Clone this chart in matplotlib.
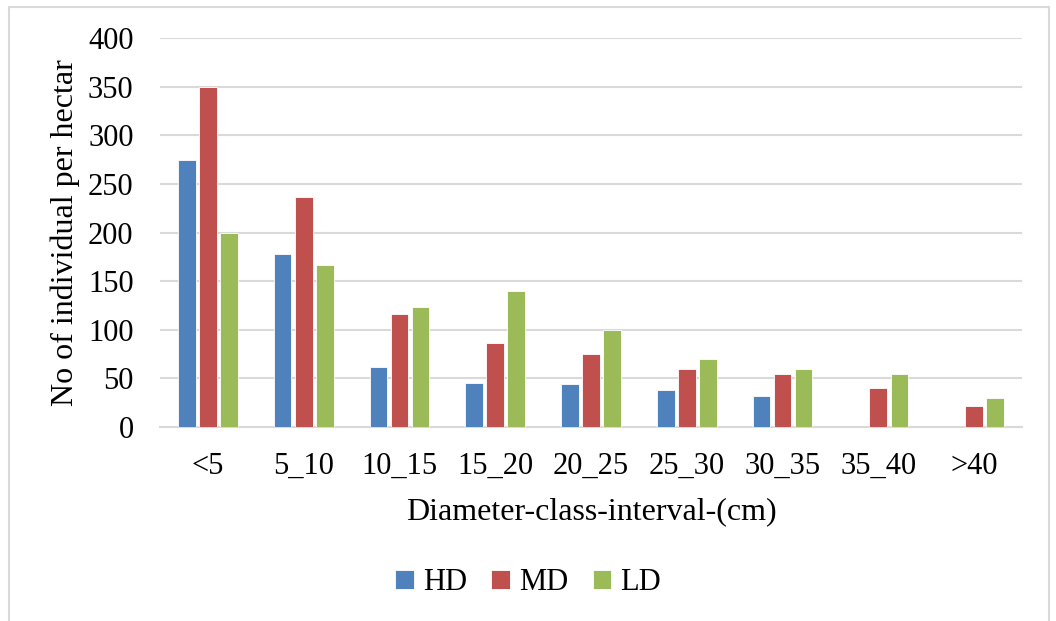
import numpy as np
import matplotlib.pyplot as plt
from matplotlib.patches import Rectangle

plt.rcParams['font.family'] = ['Liberation Serif', 'DejaVu Serif']

# Diameter classes and stem density for the three disturbance levels
classes = ["<5", "5_10", "10_15", "15_20", "20_25", "25_30", "30_35", "35_40", ">40"]
hd = [275, 178, 62, 45, 44, 38, 32, 0, 0]
md = [350, 236, 116, 86, 75, 60, 55, 40, 22]
ld = [200, 167, 123, 140, 100, 70, 60, 55, 30]

colors = ["#4f81bd", "#c0504d", "#9bbb59"]

fig = plt.figure(figsize=(10.56, 6.21), dpi=100)
ax = fig.add_axes([160/1056, 1-427/621, 862/1056, 389/621])

x = np.arange(len(classes))
w = 0.185
step = 0.22
for k, (vals, name) in enumerate(zip([hd, md, ld], ["HD", "MD", "LD"])):
    ax.bar(x + (k-1)*step, vals, width=w, color=colors[k], label=name,
           edgecolor="white", linewidth=0.6, zorder=3)

ax.set_xlim(-0.5, len(classes)-0.5)
ax.set_ylim(0, 400)
ax.set_yticks(range(0, 401, 50))
ax.set_xticks(x)
ax.set_xticklabels(classes)
ax.grid(axis="y", color="#d9d9d9", linewidth=1.5, zorder=0)
for s in ["top", "right", "left"]:
    ax.spines[s].set_visible(False)
ax.spines["bottom"].set_color("#d9d9d9")
ax.spines["bottom"].set_linewidth(1.5)
ax.tick_params(axis="both", length=0, labelsize=22)
ax.tick_params(axis="y", pad=19)
ax.tick_params(axis="x", pad=18)
ax.set_xlabel("Diameter-class-interval-(cm)", fontsize=23, labelpad=12)
ax.set_ylabel("No of individual per hectar", fontsize=23, labelpad=6)

fig.legend(loc="center", bbox_to_anchor=(0.5, 1-583/621), ncol=3, frameon=False,
           fontsize=22, handlelength=0.6, handleheight=0.6, handletextpad=0.3,
           columnspacing=0.8)

# chart area border
fig.patches.append(Rectangle((9/1056, -0.05), 1040/1056, 1.05-7/621,
                             transform=fig.transFigure, fill=False,
                             edgecolor="#d9d9d9", linewidth=1.5))

fig.savefig("out.png", dpi=100)
